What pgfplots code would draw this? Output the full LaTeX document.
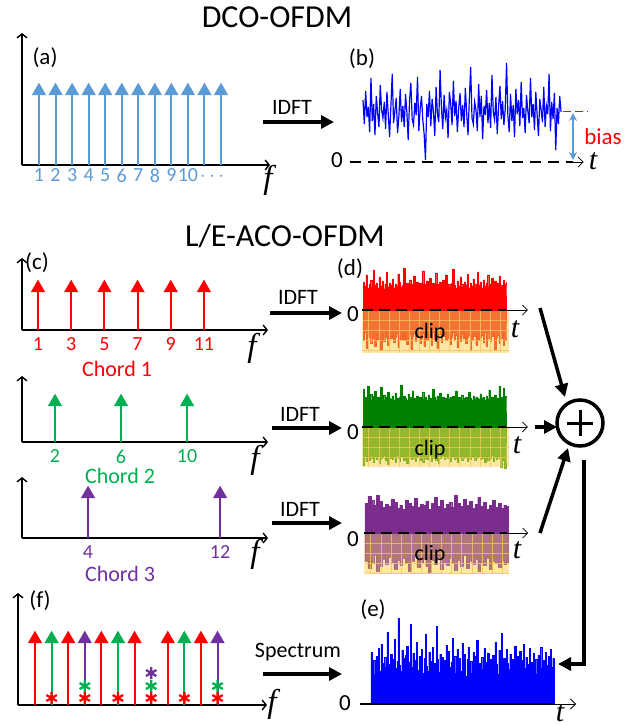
\documentclass[border=0pt]{standalone}
\usepackage{pgfplots}
\pgfplotsset{compat=1.18}
\usepackage{pgfplotstable}
\usepackage{fontspec}
\setmainfont{Carlito}
\newfontfamily\serif{Liberation Serif}
\usetikzlibrary{arrows.meta}
\newcommand{\fs}[1]{\fontsize{#1}{#1}\selectfont}
\definecolor{lblue}{HTML}{5B9BD5}
\definecolor{cgreen}{HTML}{00B050}
\definecolor{cpurple}{HTML}{7030A0}
\definecolor{sgreen}{HTML}{008000}
\definecolor{sgreenlow}{HTML}{86B51E}
\definecolor{spurple}{HTML}{7B2D8E}
\definecolor{spurplelow}{HTML}{A8697A}
\definecolor{sorange}{HTML}{F2662A}
\definecolor{bgyellow}{HTML}{FDE7A6}
\definecolor{gridyellow}{HTML}{F3C65A}

% DCO-OFDM time signal (b) and combined signal (e)
\pgfplotstableread{
b e
62 52
38 35
71 44
45 30
55 48
30 38
84 56
41 33
58 60
27 41
66 29
49 47
35 37
77 72
52 40
44 31
60 50
33 45
70 28
48 65
25 36
57 43
88 86
39 39
51 33
64 54
29 46
46 30
73 49
40 58
56 35
35 42
68 80
50 37
22 51
61 29
79 44
43 62
37 34
59 48
47 40
85 55
31 31
53 46
66 70
42 38
28 33
2 52
58 43
45 29
71 57
36 41
63 36
50 78
26 45
75 32
48 50
40 39
92 47
55 34
33 44
67 59
44 30
52 53
24 37
70 42
58 66
37 35
81 48
46 31
61 55
30 40
54 46
69 33
41 61
57 39
35 50
74 28
49 45
27 57
63 36
95 43
44 31
38 52
60 38
52 48
31 64
78 34
45 41
66 30
23 47
56 35
47 56
72 42
39 29
59 51
34 38
87 45
50 33
42 49
65 36
28 62
55 40
76 30
43 54
61 43
37 71
53 37
99 46
46 32
30 55
68 41
41 35
57 50
25 28
73 45
48 39
62 58
36 34
80 48
44 37
54 53
29 31
67 44
51 60
39 36
84 47
45 40
58 33
32 56
70 42
47 38
26 51
63 35
52 45
40 30
75 49
35 41
56 57
48 36
88 44
31 33
60 52
43 39
69 48
12 31
54 55
38 37
66 46
50 42
}\tone

% clipped chord signals (d): positive part / clipped negative part
\pgfplotstableread{
rp rn gp gn pp pn
28 -30 38 -38 30 -28
24 -22 30 -30 30 -28
35 -38 28 -34 37 -35
22 -25 41 -29 37 -35
26 -27 29 -33 33 -30
30 -33 33 -31 33 -30
23 -24 27 -28 28 -22
40 -28 31 -35 28 -22
25 -36 36 -30 38 -38
27 -23 28 -32 38 -38
22 -29 30 -29 32 -33
33 -26 29 -36 32 -33
24 -40 40 -31 26 -26
29 -24 28 -30 26 -26
21 -31 32 -28 29 -31
26 -27 27 -33 29 -31
38 -22 30 -30 27 -24
23 -35 35 -37 27 -24
27 -25 29 -29 34 -29
25 -28 28 -31 34 -29
31 -24 31 -32 31 -36
22 -32 27 -30 31 -36
26 -27 34 -35 25 -27
24 -23 29 -28 25 -27
36 -37 28 -31 28 -32
28 -26 30 -34 28 -32
23 -29 42 -29 24 -25
25 -22 28 -30 24 -25
42 -30 31 -33 33 -30
24 -25 29 -31 33 -30
27 -34 27 -36 30 -38
22 -28 33 -29 30 -38
30 -24 30 -30 27 -28
26 -39 28 -32 27 -28
23 -26 36 -28 35 -23
34 -23 29 -31 35 -23
25 -31 27 -34 26 -34
28 -27 31 -30 26 -34
22 -25 28 -29 29 -29
27 -33 30 -33 29 -29
24 -28 29 -30 28 -26
39 -23 35 -35 28 -26
26 -36 28 -31 32 -33
23 -26 30 -29 32 -33
29 -30 27 -32 24 -39
25 -24 32 -30 24 -39
32 -27 29 -28 30 -27
22 -35 28 -34 30 -27
27 -22 38 -31 36 -31
24 -29 30 -30 36 -31
37 -25 27 -33 27 -24
26 -38 31 -29 27 -24
23 -27 29 -36 33 -36
28 -24 34 -31 33 -36
25 -32 28 -30 25 -29
30 -26 30 -28 25 -29
22 -23 27 -32 29 -32
35 -30 29 -29 29 -32
24 -28 33 -31 31 -25
26 -25 28 -30 31 -25
23 -34 30 -34 26 -30
27 -27 28 -30 26 -30
41 -22 31 -29 38 -37
25 -29 27 -32 38 -37
22 -25 36 -31 30 -27
29 -37 29 -35 30 -27
24 -26 30 -30 27 -33
33 -31 28 -28 27 -33
26 -24 32 -33 34 -22
23 -28 27 -31 34 -22
28 -23 29 -29 28 -35
25 -33 30 -30 28 -35
36 -27 28 -34 32 -28
22 -25 35 -31 32 -28
27 -40 29 -32 25 -31
24 -29 27 -29 25 -31
31 -24 31 -30 29 -26
26 -26 28 -33 29 -26
23 -35 30 -31 36 -38
38 -23 29 -30 36 -38
25 -30 28 -29 27 -29
28 -27 33 -32 27 -29
22 -25 29 -31 31 -32
30 -32 30 -30 31 -32
24 -22 27 -35 24 -25
27 -36 31 -29 24 -25
35 -28 28 -33 28 -36
23 -24 37 -30 28 -36
26 -31 29 -31 33 -28
32 -26 30 -28 33 -28
24 -23 28 -34 26 -30
29 -39 32 -30 26 -30
22 -27 27 -32 30 -34
27 -25 29 -29 30 -34
34 -33 41 -31 25 -27
25 -28 30 -40 25 -27
23 -24 28 -30 28 -31
30 -35 39 -33 28 -31
26 -30 31 -41 27 -29
28 -26 29 -31 27 -29
}\ttwo

\pgfplotsset{
  stemax/.style={scale only axis, anchor=south west, axis lines=left,
    axis line style={line width=1.4pt, -{Straight Barb[length=4pt,width=10pt]}},
    every outer x axis line/.append style={-{Straight Barb[length=4pt,width=10pt]}},
    every outer y axis line/.append style={-{Straight Barb[length=4pt,width=10pt]}},
    ytick=\empty, major tick length=0pt, ymin=0, clip=false,
    ticklabel style={font=\fs{20}}},
  sigax/.style={scale only axis, anchor=south west, hide axis, clip=false},
  stem/.style={ycomb, line width=2pt, mark=triangle*, mark size=6.3pt, mark options={solid}},
  barb/.style={black, line width=0.8pt, -{Straight Barb[length=5pt,width=10pt]}},
  zdash/.style={black, line width=1.4pt, dash pattern=on 11pt off 6pt},
  star/.style={only marks, mark=asterisk, mark size=6pt, line width=2.3pt},
}

\begin{document}
\begin{tikzpicture}
\useasboundingbox (0pt,0pt) rectangle (639pt,-725pt);

% ---------- (a) DCO spectrum
\begin{axis}[stemax, at={(22pt,-165pt)}, width=248pt, height=132pt,
  xmin=-0.027, xmax=14.96, ymax=132,
  xtick={1,...,10}, xticklabels={1,2,3,4,5,6,7,8,9,10},
  xticklabel style={text=lblue}]
\addplot[stem, lblue] coordinates {(1,74)(2,74)(3,74)(4,74)(5,74)(6,74)(7,74)(8,74)(9,74)(10,74)(11,74)(12,74)};
\end{axis}

% ---------- (b) DCO time signal
\begin{axis}[sigax, at={(340pt,-172pt)}, width=260pt, height=120pt,
  xmin=-17.3, xmax=178.3, ymin=-10, ymax=110]
\addplot[blue, line width=1.2pt] table[x expr=\coordindex, y=b]{\tone};
\addplot[zdash, dash pattern=on 11pt off 7pt] coordinates {(-9.8,0)(158,0)};
\addplot[barb] coordinates {(158,0)(166,0)};
\addplot[lblue, line width=1.6pt, {Stealth[length=8pt,width=8pt]}-{Stealth[length=8pt,width=8pt]}] coordinates {(158,49)(158,2)};
\addplot[red, line width=1pt, dash pattern=on 8pt off 4pt] coordinates {(150.5,51)(169.3,51)};
\end{axis}

% ---------- (c) chord 1
\begin{axis}[stemax, at={(22pt,-330pt)}, width=246pt, height=72pt,
  xmin=0.036, xmax=14.86, ymax=72,
  xtick={1,3,5,7,9,11}, xticklabels={1,3,5,7,9,11},
  xticklabel style={text=red, yshift=-4pt}]
\addplot[stem, red] coordinates {(1,42)(3,42)(5,42)(7,42)(9,42)(11,42)};
\end{axis}

% ---------- chord 2
\begin{axis}[stemax, at={(22pt,-442pt)}, width=246pt, height=66pt,
  xmin=0, xmax=14.9, ymax=66,
  xtick={2,6,10}, xticklabels={2,6,10},
  xticklabel style={text=cgreen, yshift=-4pt}]
\addplot[stem, cgreen] coordinates {(2,40)(6,40)(10,40)};
\end{axis}

% ---------- chord 3
\begin{axis}[stemax, at={(22pt,-538pt)}, width=246pt, height=61pt,
  xmin=0, xmax=14.9, ymax=61,
  xtick={4,12}, xticklabels={4,12},
  xticklabel style={text=cpurple, yshift=-4pt}]
\addplot[stem, cpurple] coordinates {(4,44)(12,44)};
\end{axis}

% ---------- (f) combined spectrum
\begin{axis}[stemax, at={(18pt,-705pt)}, width=249pt, height=112pt,
  xmin=-0.024, xmax=14.98, ymax=112, xtick=\empty]
\addplot[stem, cpurple] coordinates {(4,66)(12,66)};
\addplot[stem, cgreen] coordinates {(2,66)(6,66)(10,66)};
\addplot[stem, red] coordinates {(1,66)(3,66)(5,66)(7,66)(9,66)(11,66)};
\addplot[star, red] coordinates {(2,7)(4,7)(6,7)(8,7)(10,7)(12,7)};
\addplot[star, cgreen] coordinates {(4,19)(8,19)(12,19)};
\addplot[star, cpurple] coordinates {(8,32)};
\end{axis}

% ---------- (d) red clipped
\begin{axis}[sigax, at={(340pt,-360pt)}, width=200pt, height=100pt,
  xmin=-15.92, xmax=122.55, ymin=-50, ymax=50]
\addplot[fill=bgyellow, draw=none] coordinates {(-0.7,-43)(101.4,-43)} \closedcycle;
\addplot[const plot, fill=sorange, draw=sorange, line width=0.3pt, fill opacity=0.9] table[x expr=\coordindex, y=rn]{\ttwo} \closedcycle;
\addplot[ycomb, gridyellow, line width=0.6pt, opacity=0.8] coordinates {(4,-43)(11,-43)(18,-43)(25,-43)(32,-43)(39,-43)(46,-43)(53,-43)(60,-43)(67,-43)(74,-43)(81,-43)(88,-43)(95,-43)};
\addplot[xcomb, gridyellow, line width=0.6pt, opacity=0.8] coordinates {(101.4,-10)(101.4,-20)(101.4,-30)(101.4,-40)};
\addplot[const plot, fill=red, draw=red, line width=0.3pt] table[x expr=\coordindex, y=rp]{\ttwo} \closedcycle;
\addplot[zdash] coordinates {(-0.5,0)(99,0)};
\addplot[barb] coordinates {(99,0)(114.2,0)};
\end{axis}

% ---------- green clipped
\begin{axis}[sigax, at={(340pt,-477pt)}, width=200pt, height=100pt,
  xmin=-15.92, xmax=122.55, ymin=-50, ymax=50]
\addplot[fill=bgyellow, draw=none] coordinates {(-0.7,-40)(101.4,-40)} \closedcycle;
\addplot[const plot, fill=sgreenlow, draw=sgreenlow, line width=0.3pt, fill opacity=0.9] table[x expr=\coordindex, y=gn]{\ttwo} \closedcycle;
\addplot[ycomb, gridyellow, line width=0.6pt, opacity=0.8] coordinates {(4,-40)(11,-40)(18,-40)(25,-40)(32,-40)(39,-40)(46,-40)(53,-40)(60,-40)(67,-40)(74,-40)(81,-40)(88,-40)(95,-40)};
\addplot[xcomb, gridyellow, line width=0.6pt, opacity=0.8] coordinates {(101.4,-10)(101.4,-20)(101.4,-30)};
\addplot[const plot, fill=sgreen, draw=sgreen, line width=0.3pt] table[x expr=\coordindex, y=gp]{\ttwo} \closedcycle;
\addplot[zdash] coordinates {(-0.5,0)(99,0)};
\addplot[barb] coordinates {(99,0)(114.2,0)};
\end{axis}

% ---------- purple clipped
\begin{axis}[sigax, at={(342pt,-583pt)}, width=200pt, height=100pt,
  xmin=-15.92, xmax=122.55, ymin=-50, ymax=50]
\addplot[fill=bgyellow, draw=none] coordinates {(-0.7,-41)(100,-41)} \closedcycle;
\addplot[const plot, fill=spurplelow, draw=spurplelow, line width=0.3pt, fill opacity=0.9] table[x expr=\coordindex, y=pn]{\ttwo} \closedcycle;
\addplot[ycomb, gridyellow, line width=0.6pt, opacity=0.8] coordinates {(4,-41)(11,-41)(18,-41)(25,-41)(32,-41)(39,-41)(46,-41)(53,-41)(60,-41)(67,-41)(74,-41)(81,-41)(88,-41)(95,-41)};
\addplot[xcomb, gridyellow, line width=0.6pt, opacity=0.8] coordinates {(100,-10)(100,-20)(100,-30)(100,-40)};
\addplot[const plot, fill=spurple, draw=spurple, line width=0.3pt] table[x expr=\coordindex, y=pp]{\ttwo} \closedcycle;
\addplot[zdash] coordinates {(-0.5,0)(98,0)};
\addplot[barb] coordinates {(98,0)(113,0)};
\end{axis}

% ---------- (e) received signal
\begin{axis}[sigax, at={(355pt,-714pt)}, width=230pt, height=110pt,
  xmin=-13, xmax=174.3, ymin=-10, ymax=100]
\addplot[const plot, fill=blue, draw=blue, line width=0.3pt] table[x expr=\coordindex, y=e]{\tone} \closedcycle;
\addplot[black, line width=1.8pt] coordinates {(-9,0)(148.2,0)};
\addplot[barb] coordinates {(148.2,0)(167,0)};
\end{axis}

% ---------- annotations (pixel coordinates, y downwards)
\begin{scope}[x=1pt, y=-1pt]
\tikzset{tl/.style={font=\fs{30}, inner sep=0pt}}
\node[font=\fs{32}] at (277,17) {DCO-OFDM};
\node[font=\fs{32}] at (285,236) {L/E-ACO-OFDM};
\node[font=\fs{23}] at (45,58) {(a)};
\node[font=\fs{20}, text=lblue] at (212,177) {$\cdots$};
\node[font=\fs{33}] at (268,180) {\serif\itshape f};
\node[font=\fs{22}] at (292,107) {IDFT};
\draw[line width=3.5pt, -{Triangle[length=13pt,width=13pt]}] (263,122) -- (334,122);
\node[font=\fs{23}] at (362,59) {(b)};
\node[font=\fs{23}] at (337,160) {0};
\node[tl] at (593,161) {\serif\itshape t};
\node[font=\fs{23}, text=red, inner sep=1pt] at (603,137) {bias};

\node[font=\fs{23}] at (37,263) {(c)};
\node[font=\fs{22}, text=red] at (117,369) {Chord 1};
\node[font=\fs{33}] at (252,348) {\serif\itshape f};
\node[font=\fs{22}] at (298,297) {IDFT};
\draw[line width=3.5pt, -{Triangle[length=13pt,width=13pt]}] (270,313) -- (342,313);
\node[font=\fs{23}] at (350,269) {(d)};
\node[font=\fs{23}] at (353,314) {0};
\node[font=\fs{22}] at (430,333) {clip};
\node[tl] at (515,329) {\serif\itshape t};

\node[font=\fs{22}, text=cgreen] at (120,476) {Chord 2};
\node[font=\fs{33}] at (255,460) {\serif\itshape f};
\node[font=\fs{22}] at (300,414) {IDFT};
\draw[line width=3.5pt, -{Triangle[length=13pt,width=13pt]}] (272,428) -- (342,428);
\node[font=\fs{23}] at (353,432) {0};
\node[font=\fs{22}] at (430,450) {clip};
\node[tl] at (517,445) {\serif\itshape t};

\node[font=\fs{22}, text=cpurple] at (120,574) {Chord 3};
\node[font=\fs{33}] at (255,554) {\serif\itshape f};
\node[font=\fs{22}] at (300,509) {IDFT};
\draw[line width=3.5pt, -{Triangle[length=13pt,width=13pt]}] (272,523) -- (342,523);
\node[font=\fs{23}] at (353,539) {0};
\node[font=\fs{22}] at (430,555) {clip};
\node[tl] at (517,550) {\serif\itshape t};

\node[font=\fs{23}] at (40,601) {(f)};
\node[font=\fs{33}] at (272,704) {\serif\itshape f};
\node[font=\fs{22}] at (298,652) {Spectrum};
\draw[line width=3.5pt, -{Triangle[length=13pt,width=13pt]}] (263,674) -- (342,674);
\node[font=\fs{23}] at (373,610) {(e)};
\node[font=\fs{23}] at (345,703) {0};
\node[tl] at (560,713) {\serif\itshape t};

% summation
\draw[line width=3.5pt] (580,423) circle (23pt);
\draw[line width=3pt] (567,423) -- (593,423) (580,410) -- (580,436);
\draw[line width=3.5pt, -{Triangle[length=13pt,width=13pt]}] (540,308) -- (565,397);
\draw[line width=3.5pt, -{Triangle[length=13pt,width=13pt]}] (535,427) -- (557,427);
\draw[line width=3.5pt, -{Triangle[length=13pt,width=13pt]}] (540,533) -- (568,448);
\draw[line width=3.5pt, -{Triangle[length=13pt,width=13pt]}] (584,460) -- (584,664) -- (558,664);
\end{scope}
\end{tikzpicture}
\end{document}
